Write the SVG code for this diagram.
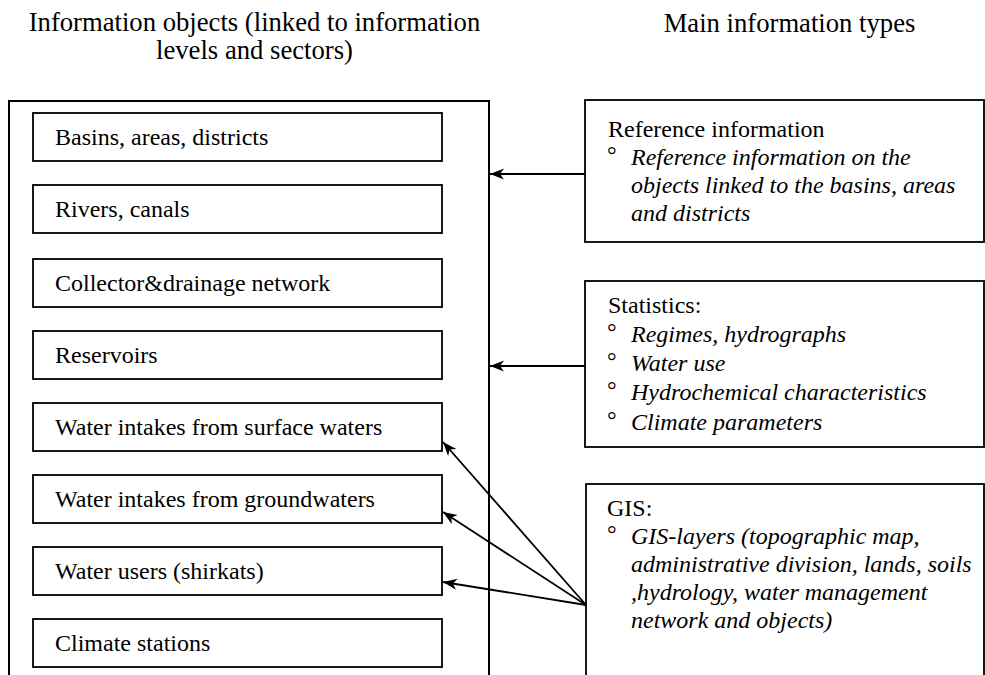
<svg xmlns="http://www.w3.org/2000/svg" width="985" height="675" viewBox="0 0 985 675" font-family="'Liberation Serif', 'Times New Roman', Times, serif">
<defs>
<style>
text{font-family:'Liberation Serif','Times New Roman',Times,serif;fill:#000}
.h{font-size:26.67px}
.t{font-size:24px}
.i{font-style:italic}
.box{fill:#fff;stroke:#000;stroke-width:1.8}
.outer{fill:none;stroke:#000;stroke-width:2}
.con{fill:none;stroke:#000;stroke-width:1.8;marker-end:url(#ah)}
</style>
<marker id="ah" markerUnits="userSpaceOnUse" markerWidth="15" markerHeight="12" refX="14" refY="5.5" orient="auto">
<path d="M0,0 L14,5.5 L0,11 L4,5.5 z" fill="#000"/>
</marker>
</defs>
<rect width="985" height="675" fill="#fff"/>
<g id="headers">
<text class="h" x="254.5" y="31" text-anchor="middle">Information objects (linked to information</text>
<text class="h" x="254.5" y="59" text-anchor="middle">levels and sectors)</text>
<text class="h" x="789.5" y="32" text-anchor="middle">Main information types</text>
</g>
<g id="objects">
<rect class="outer" x="9" y="101" width="480" height="600"/>
</g>
<g id="basins"><rect class="box" x="33" y="113" width="409" height="48"/><text class="t" x="55" y="145">Basins, areas, districts</text></g>
<g id="rivers"><rect class="box" x="33" y="185" width="409" height="48"/><text class="t" x="55" y="217">Rivers, canals</text></g>
<g id="collector"><rect class="box" x="33" y="259" width="409" height="48"/><text class="t" x="55" y="291">Collector&amp;drainage network</text></g>
<g id="reservoirs"><rect class="box" x="33" y="331" width="409" height="48"/><text class="t" x="55" y="363">Reservoirs</text></g>
<g id="surface"><rect class="box" x="33" y="403" width="409" height="48"/><text class="t" x="55" y="435">Water intakes from surface waters</text></g>
<g id="ground"><rect class="box" x="33" y="475" width="409" height="48"/><text class="t" x="55" y="507">Water intakes from groundwaters</text></g>
<g id="users"><rect class="box" x="33" y="547" width="409" height="48"/><text class="t" x="55" y="579">Water users (shirkats)</text></g>
<g id="climate"><rect class="box" x="33" y="619" width="409" height="48"/><text class="t" x="55" y="651">Climate stations</text></g>
<g id="reference">
<rect class="box" x="585" y="100" width="399" height="142"/>
<text class="t" x="608" y="137">Reference information</text>
<text class="t" x="607" y="163">°</text>
<text class="t i" x="631" y="165">Reference information on the</text>
<text class="t i" x="631" y="193">objects linked to the basins, areas</text>
<text class="t i" x="631" y="221">and districts</text>
</g>
<g id="statistics">
<rect class="box" x="585" y="281" width="399" height="166"/>
<text class="t" x="608" y="313">Statistics:</text>
<text class="t" x="607" y="340">°</text>
<text class="t i" x="631" y="342">Regimes, hydrographs</text>
<text class="t" x="607" y="369">°</text>
<text class="t i" x="631" y="371">Water use</text>
<text class="t" x="607" y="398">°</text>
<text class="t i" x="631" y="400">Hydrochemical characteristics</text>
<text class="t" x="607" y="428">°</text>
<text class="t i" x="631" y="430">Climate parameters</text>
</g>
<g id="gis">
<rect class="box" x="586" y="484" width="398" height="220"/>
<text class="t" x="607" y="516">GIS:</text>
<text class="t" x="607" y="542">°</text>
<text class="t i" x="631" y="544">GIS-layers (topographic map,</text>
<text class="t i" x="631" y="572">administrative division, lands, soils</text>
<text class="t i" x="631" y="600">,hydrology,  water management</text>
<text class="t i" x="631" y="628">network and objects)</text>
</g>
<g id="connectors">
<line class="con" x1="585" y1="174" x2="490" y2="174"/>
<line class="con" x1="585" y1="366" x2="490" y2="366"/>
<line class="con" x1="586" y1="605" x2="443" y2="442"/>
<line class="con" x1="586" y1="605" x2="443" y2="512"/>
<line class="con" x1="586" y1="605" x2="443" y2="582"/>
</g>
</svg>
